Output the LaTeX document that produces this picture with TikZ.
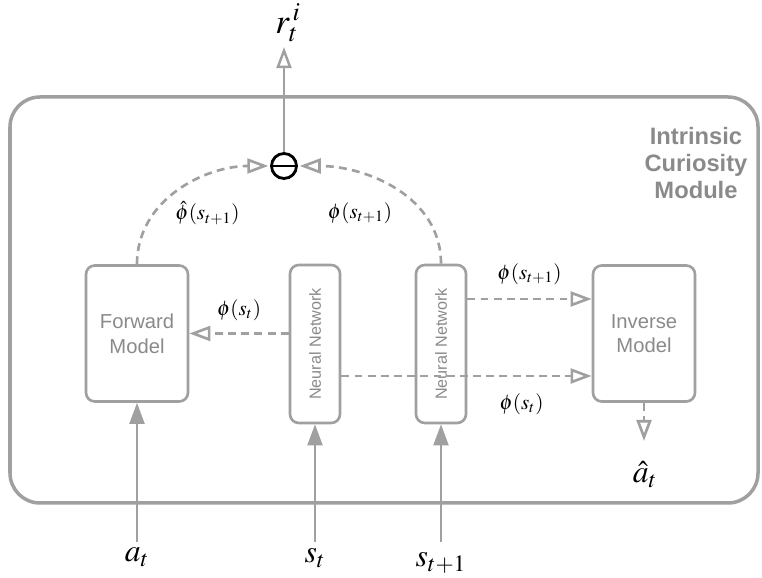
\documentclass[tikz,border=0pt]{standalone}
\usepackage{mathptmx}
\usepackage{fontspec}
\setmainfont{Liberation Serif}
\setsansfont{Liberation Sans}
\usetikzlibrary{arrows.meta,positioning}
\definecolor{xgray}{HTML}{A0A0A0}
\definecolor{xtext}{HTML}{8A8A8A}

\begin{document}
\begin{tikzpicture}[
    >={Triangle[open,length=12pt,width=8.5pt]},
    model/.style={rectangle, draw=xgray, rounded corners=5pt, line width=1.5pt, fill=white, minimum width=2.04cm, minimum height=2.72cm, align=center, text=xtext, font=\sffamily\fontsize{11.5}{14}\selectfont},
    net/.style={model, minimum width=1cm, minimum height=3.16cm, font=\sffamily\fontsize{9.2}{11}\selectfont},
    flow/.style={->, draw=xgray, line width=1.5pt, dash pattern=on 4.5pt off 3pt},
    feed/.style={-{Triangle[length=12pt,width=8.5pt]}, draw=xgray, line width=1.4pt},
    emb/.style={font=\fontsize{12}{14}\selectfont},
    var/.style={font=\fontsize{18}{20}\selectfont, anchor=base},
]
\useasboundingbox (0,0) rectangle (15.24,11.56);

% Module frame
\node[draw=xgray, line width=2pt, rounded corners=0.6cm, minimum width=14.96cm, minimum height=8.12cm] (icm) at (7.68,5.56) {};
\node[align=center, text=xtext, font=\sffamily\bfseries\fontsize{13.5}{15.5}\selectfont] (title) at (13.92,8.3) {Intrinsic\\Curiosity\\Module};

% Models and encoders
\node[model] (fwd) at (2.74,4.89) {Forward\\Model};
\node[net] (nn1) at (6.30,4.68) {\rotatebox{90}{Neural Network}};
\node[net] (nn2) at (8.82,4.68) {\rotatebox{90}{Neural Network}};
\node[model] (inv) at (12.88,4.89) {Inverse\\Model};

% Difference
\node[circle, draw, fill=white, line width=1.6pt, minimum size=0.5cm, inner sep=0pt] (diff) at (5.68,8.24) {};
\draw[line width=1.6pt] (diff.west) -- (diff.east);

% Inputs
\coordinate (ain) at (2.74,0.72);
\coordinate (sin) at (6.30,0.72);
\coordinate (snin) at (8.82,0.72);
\node[var] (at) at (2.74,0.32) {$a_t$};
\node[var] (st) at (6.30,0.3) {$s_t$};
\node[var] (stn) at (8.82,0.22) {$s_{t+1}$};
\draw[feed] (ain) -- (fwd);
\draw[feed] (sin) -- (nn1);
\draw[feed] (snin) -- (nn2);

% Features
\draw[flow] (nn1.west |- fwd.east) -- node[emb, above=3pt] {$\phi(s_t)$} (fwd.east);
\draw[flow] ([yshift=0.69cm]inv.west -| nn2.east) -- node[emb, above=4pt] {$\phi(s_{t+1})$} ([yshift=0.69cm]inv.west);
\draw[flow] ([yshift=-0.85cm]inv.west -| nn1.east) -- node[emb, below=6pt, xshift=1.1cm] {$\phi(s_t)$} ([yshift=-0.85cm]inv.west);

% Prediction error
\draw[flow, shorten >=1pt] (fwd.north) to[out=90, in=180] (diff.west);
\draw[flow, shorten >=1pt] (nn2.north) to[out=90, in=0] (diff.east);
\node[emb] (phat) at (4.15,7.3) {$\hat{\phi}(s_{t+1})$};
\node[emb] (pnext) at (7.2,7.3) {$\phi(s_{t+1})$};

% Outputs
\coordinate (rout) at (5.68,10.62);
\node[font=\fontsize{20}{22}\selectfont] (ri) at (5.76,11.1) {$r^{\,i}_{t}$};
\draw[->, draw=xgray, line width=1.4pt] (diff.north) -- (rout);
\coordinate (aout) at (12.88,2.74);
\node[var] (ahat) at (12.9,1.9) {$\hat{a}_t$};
\draw[flow] (inv.south) -- (aout);

\end{tikzpicture}
\end{document}
